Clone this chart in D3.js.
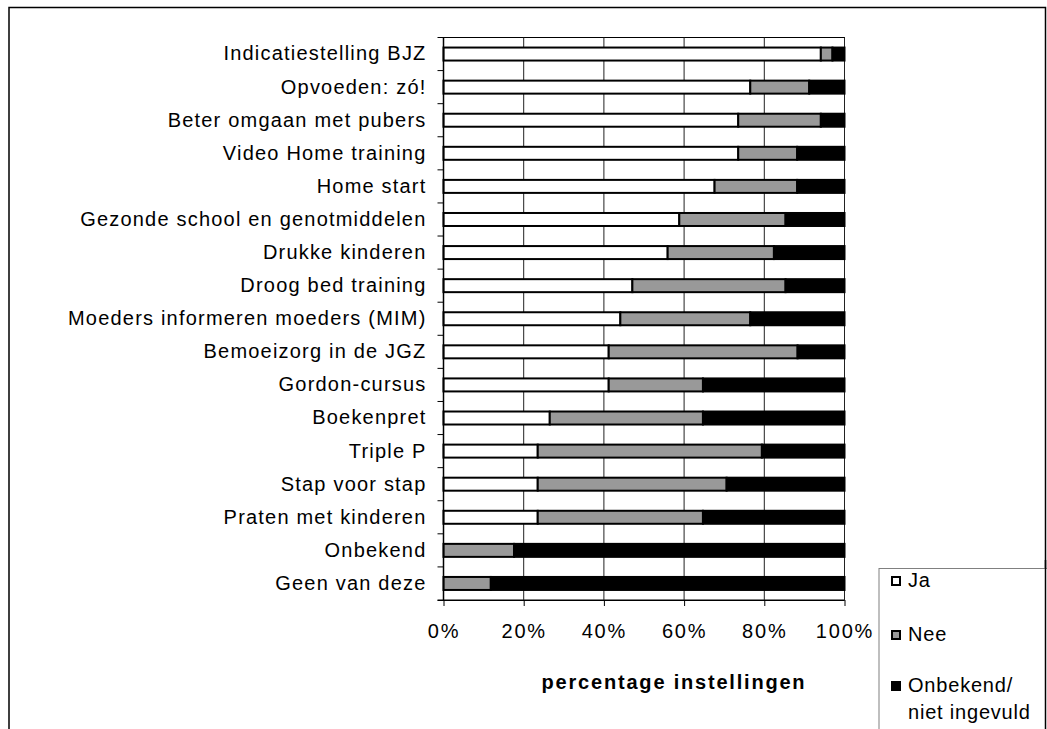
<!DOCTYPE html>
<html><head><meta charset="utf-8">
<script src="https://cdn.jsdelivr.net/npm/d3@7"></script>
<style>
html,body{margin:0;padding:0;background:#fff;}
svg text{font-family:"Liberation Sans",Arial,sans-serif;fill:#000;}
</style></head>
<body>
<svg id="c" width="1047" height="729"></svg>
<script>
const categories = ["Indicatiestelling BJZ","Opvoeden: zó!","Beter omgaan met pubers","Video Home training","Home start","Gezonde school en genotmiddelen","Drukke kinderen","Droog bed training","Moeders informeren moeders (MIM)","Bemoeizorg in de JGZ","Gordon-cursus","Boekenpret","Triple P","Stap voor stap","Praten met kinderen","Onbekend","Geen van deze"];
const ja       = [94.1,76.5,73.5,73.5,67.6,58.8,55.9,47.1,44.1,41.2,41.2,26.5,23.5,23.5,23.5,0,0];
const nee      = [2.9,14.7,20.6,14.7,20.6,26.5,26.5,38.2,32.4,47.1,23.5,38.2,55.9,47.1,41.2,17.6,11.8];
const onbekend = [3.0,8.8,5.9,11.8,11.8,14.7,17.6,14.7,23.5,11.7,35.3,35.3,20.6,29.4,35.3,82.4,88.2];
const seriesNames = ["Ja","Nee","Onbekend/\nniet ingevuld"];
const seriesColors = ["#ffffff","#999999","#000000"];
const xTicks = [0,20,40,60,80,100];
const xTitle = "percentage instellingen";

const svg = d3.select("#c");
const FS = 20, LS = "1.2px";

// outer frame
svg.append("rect").attr("x",9).attr("y",7.5).attr("width",1036.5).attr("height",760)
  .attr("fill","none").attr("stroke","#000").attr("stroke-width",1.5);

const L = 443.5, R = 844.5, T = 37.5, B = 600;
const x = d3.scaleLinear().domain([0,100]).range([L,R]);
const y = d3.scaleBand().domain(categories).range([T,B]).padding(0);

const g = svg.append("g");
// plot border
g.append("rect").attr("x",L).attr("y",T).attr("width",R-L).attr("height",B-T)
  .attr("fill","#fff").attr("stroke","#000").attr("stroke-width",1);
// gridlines
g.selectAll("line.grid").data(xTicks.slice(1)).join("line")
  .attr("x1",d=>x(d)).attr("x2",d=>x(d)).attr("y1",T).attr("y2",B)
  .attr("stroke","#222").attr("stroke-width",1);

// stacked data
const rows = categories.map((c,i)=>({cat:c, a:ja[i], b:nee[i], c:onbekend[i]}));
const stack = d3.stack().keys(["a","b","c"]);
const layers = stack(rows);
const barH = 13;
layers.forEach((layer,k)=>{
  g.selectAll(null).data(layer.filter(d=>d[1]-d[0]>0)).join("rect")
    .attr("x",d=>x(d[0]))
    .attr("width",d=>x(d[1])-x(d[0]))
    .attr("y",d=>y(d.data.cat)+(y.bandwidth()-barH)/2)
    .attr("height",barH)
    .attr("fill",seriesColors[k])
    .attr("stroke","#000").attr("stroke-width",2);
});

// y axis
const yAxis = d3.axisLeft(y).tickSize(0).tickPadding(17);
const ya = g.append("g").attr("transform",`translate(${L},0)`).call(yAxis);
ya.select(".domain").remove();
ya.selectAll("text").attr("font-size",FS).style("letter-spacing",LS)
  .attr("font-family","Liberation Sans, Arial, sans-serif");
g.append("line").attr("x1",L).attr("x2",L).attr("y1",T).attr("y2",B).attr("stroke","#000").attr("stroke-width",1.5);
const bounds = categories.map(c=>y(c)).concat([B]);
g.selectAll("line.yt").data(bounds).join("line")
  .attr("x1",L-6).attr("x2",L).attr("y1",d=>d).attr("y2",d=>d).attr("stroke","#000");

// x axis
const xAxis = d3.axisBottom(x).tickValues(xTicks).tickFormat(d=>d+"%").tickSize(6).tickPadding(18);
const xa = g.append("g").attr("transform",`translate(0,${B})`).call(xAxis);
xa.select(".domain").attr("d",`M${L-6},0.5H${R}`).attr("stroke","#000");
xa.selectAll("text").attr("font-size",FS).style("letter-spacing","1.8px")
  .attr("font-family","Liberation Sans, Arial, sans-serif");

svg.append("text").attr("x",674).attr("y",689).attr("text-anchor","middle")
  .attr("font-size",20).attr("font-weight","bold").style("letter-spacing","1.8px").text(xTitle);

// legend
svg.append("rect").attr("x",879).attr("y",568.5).attr("width",170).attr("height",200)
  .attr("fill","#fff").attr("stroke","#808080").attr("stroke-width",1);
svg.append("line").attr("x1",1045.5).attr("x2",1045.5).attr("y1",560).attr("y2",729).attr("stroke","#000").attr("stroke-width",1.5);
const legY = [587, 641, 692];
seriesNames.forEach((n,i)=>{
  svg.append("rect").attr("x",892).attr("y",legY[i]-10).attr("width",8).attr("height",8)
    .attr("fill",seriesColors[i]).attr("stroke","#000").attr("stroke-width",2);
  const t = svg.append("text").attr("x",908).attr("y",legY[i]).attr("font-size",20).style("letter-spacing","0.8px");
  n.split("\n").forEach((s,j)=>t.append("tspan").attr("x",908).attr("dy",j?27:0).text(s));
});
</script>
</body></html>
